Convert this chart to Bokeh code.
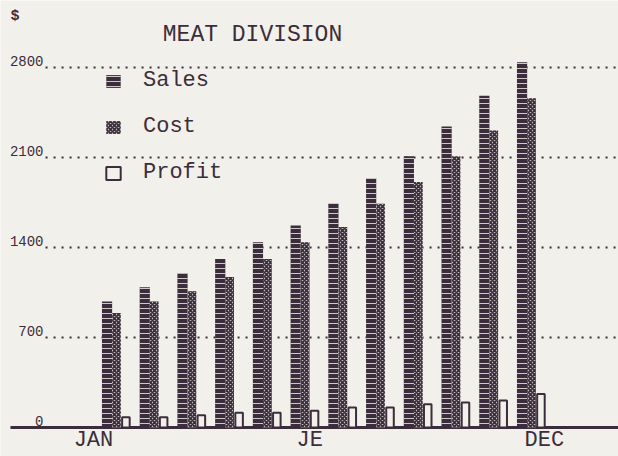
from bokeh.plotting import figure
from bokeh.models import Range1d, Legend, LegendItem, ColumnDataSource
from bokeh.core.properties import value
from bokeh.transform import dodge
from bokeh.embed import file_html
from bokeh.resources import INLINE

months = ["JAN", "FEB", "MAR", "APR", "MAY", "JE", "JUL", "AUG", "SEP", "OCT", "NOV", "DEC"]
sales = [980, 1090, 1200, 1310, 1440, 1570, 1740, 1940, 2110, 2340, 2580, 2840]
cost = [890, 980, 1060, 1170, 1310, 1440, 1560, 1740, 1910, 2110, 2310, 2560]
profit = [80, 80, 95, 115, 115, 130, 155, 155, 180, 195, 210, 260]

y_ticks = [0, 700, 1400, 2100, 2800]
y_tick_labels = ["0", "700", "1400", "2100", "2800"]
x_tick_labels = ["JAN", "JE", "DEC"]
x_tick_pos = [-0.61, 5.12, 11.34]

INK = "#3b2d3b"
BG = "#f2f0ea"
MONO = "Liberation Mono"

XL, XR = -3.074, 13.306
src = ColumnDataSource(dict(idx=list(range(len(months))), month=months,
                            sales=sales, cost=cost, profit=profit))

p = figure(width=618, height=456, x_range=Range1d(XL, XR), y_range=Range1d(-226, 3321),
           output_backend="svg", toolbar_location=None, y_axis_location=None,
           x_axis_location=None,
           min_border_left=0, min_border_right=0, min_border_top=0, min_border_bottom=0,
           background_fill_color=BG, border_fill_color=BG, outline_line_color=None)
p.xgrid.visible = False
p.ygrid.visible = False

# dotted grid lines
grid_vals = y_ticks[1:]
p.segment(x0=[-1.88] * len(grid_vals), y0=grid_vals, x1=[XR] * len(grid_vals), y1=grid_vals,
          line_dash="2 6", line_width=2, line_color=INK)

# baseline (zero line)
p.segment(x0=[-2.81], y0=[y_ticks[0]], x1=[XR], y1=[y_ticks[0]], line_width=3, line_color=INK)

rs = p.vbar(x=dodge("idx", -0.25, range=p.x_range), top="sales", width=0.27, source=src,
            fill_color=INK, line_color=None, hatch_pattern="horizontal_line",
            hatch_color=BG, hatch_scale=5, hatch_weight=0.8)
rc = p.vbar(x=dodge("idx", 0.0, range=p.x_range), top="cost", width=0.23, source=src,
            fill_color="#c9c2c4", line_color=None, hatch_pattern="diagonal_cross",
            hatch_color=INK, hatch_scale=4, hatch_weight=1.8)
rp = p.vbar(x=dodge("idx", 0.25, range=p.x_range), top="profit", width=0.2, source=src,
            fill_color=BG, line_color=INK, line_width=2)

# y tick labels
p.text(x=[-1.934] * len(y_ticks), y=y_ticks, text=y_tick_labels, text_align="right",
       text_baseline="bottom", text_font=value(MONO), text_font_size="14px", text_color=INK,
       y_offset=-1)

# x tick labels
p.text(x=x_tick_pos, y=[-101] * len(x_tick_pos), text=x_tick_labels, text_align="center",
       text_baseline="middle", text_font=value(MONO), text_font_size="22px", text_color=INK)

p.text(x=[3.605], y=[3049], text=["MEAT DIVISION"], text_align="center", text_baseline="middle",
       text_font=value(MONO), text_font_size="23px", text_color=INK)
p.text(x=[-2.809], y=[3197], text=["$"], text_align="left", text_baseline="middle",
       text_font=value(MONO), text_font_size="15px", text_font_style="bold", text_color=INK)

legend = Legend(items=[LegendItem(label="Sales", renderers=[rs]),
                       LegendItem(label="Cost", renderers=[rc]),
                       LegendItem(label="Profit", renderers=[rp])],
                location=(104, 271), glyph_width=18, glyph_height=16, label_height=24,
                spacing=21, padding=0, margin=0, border_line_color=None,
                background_fill_alpha=0, label_text_font=MONO, label_text_font_size="22px",
                label_text_color=INK, label_standoff=21)
p.add_layout(legend, "center")

open("out.html", "w").write(file_html(p, INLINE))
